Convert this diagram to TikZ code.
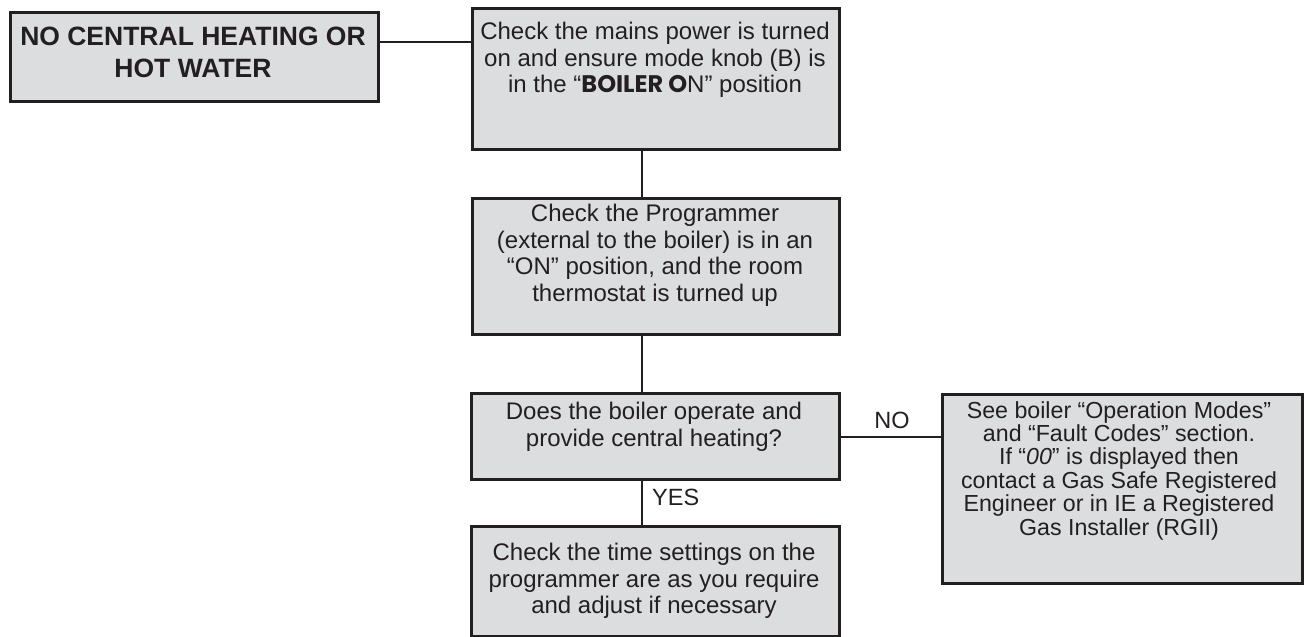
\documentclass[tikz,border=0pt]{standalone}
\usepackage{fontspec}
\setmainfont{Liberation Sans}
\newfontfamily\gfont{Poppins}
\definecolor{boxfill}{RGB}{220,221,222}
\definecolor{ink}{RGB}{35,31,32}
\begin{document}
\begin{tikzpicture}[x=1pt,y=-1pt,
  box/.style={draw=ink,fill=boxfill,line width=2.6pt,inner sep=0pt,anchor=north west},
  txt/.style={align=center,text=ink,font=\fontsize{24}{26.7}\selectfont,inner sep=0pt,anchor=north},
  conn/.style={draw=ink,line width=2.2pt},
  lab/.style={text=ink,font=\fontsize{23.5}{26}\selectfont,inner sep=0pt}]
\useasboundingbox (0,0) rectangle (1304,637);
% boxes
\node[box,minimum width=368pt,minimum height=89pt] (a) at (9,11) {};
\node[txt,font=\fontsize{26.5}{32}\selectfont\bfseries] (at) at (193,27) {NO CENTRAL HEATING OR\\HOT WATER};
\node[box,minimum width=367pt,minimum height=141pt] (b) at (471,7) {};
\node[txt] (bt) at (655,22) {Check the mains power is turned\\on and ensure mode knob (B) is\\in the “{\gfont\bfseries BOILER O}N” position};
\node[box,minimum width=367pt,minimum height=136pt] (c) at (471,197) {};
\node[txt] (ct) at (655,204) {Check the Programmer\\(external to the boiler) is in an\\“ON” position, and the room\\thermostat is turned up};
\node[box,minimum width=368pt,minimum height=86pt] (d) at (470,392) {};
\node[txt] (dt) at (654,402) {Does the boiler operate and\\provide central heating?};
\node[box,minimum width=368pt,minimum height=110pt] (e) at (470,525) {};
\node[txt] (et) at (654,543) {Check the time settings on the\\programmer are as you require\\and adjust if necessary};
\node[box,minimum width=360pt,minimum height=189pt] (f) at (941,393) {};
\node[txt,font=\fontsize{23.2}{23.4}\selectfont] (ft) at (1119,401) {See boiler “Operation Modes”\\and “Fault Codes” section.\\If “\textit{00}” is displayed then\\contact a Gas Safe Registered\\Engineer or in IE a Registered\\Gas Installer (RGII)};
% connectors
\coordinate (ab1) at (377,42);
\draw[conn] (a.east |- ab1) -- (b.west |- ab1);
\coordinate (vx) at (642,0);
\draw[conn] (vx |- b.south) -- (vx |- c.north);
\draw[conn] (vx |- c.south) -- (vx |- d.north);
\draw[conn] (vx |- d.south) -- (vx |- e.north);
\coordinate (df1) at (838,437);
\draw[conn] (d.east |- df1) -- (f.west |- df1);
% labels
\node[lab] (no) at (892,420) {NO};
\node[lab,anchor=west] (yes) at (652,497) {YES};
\end{tikzpicture}
\end{document}
